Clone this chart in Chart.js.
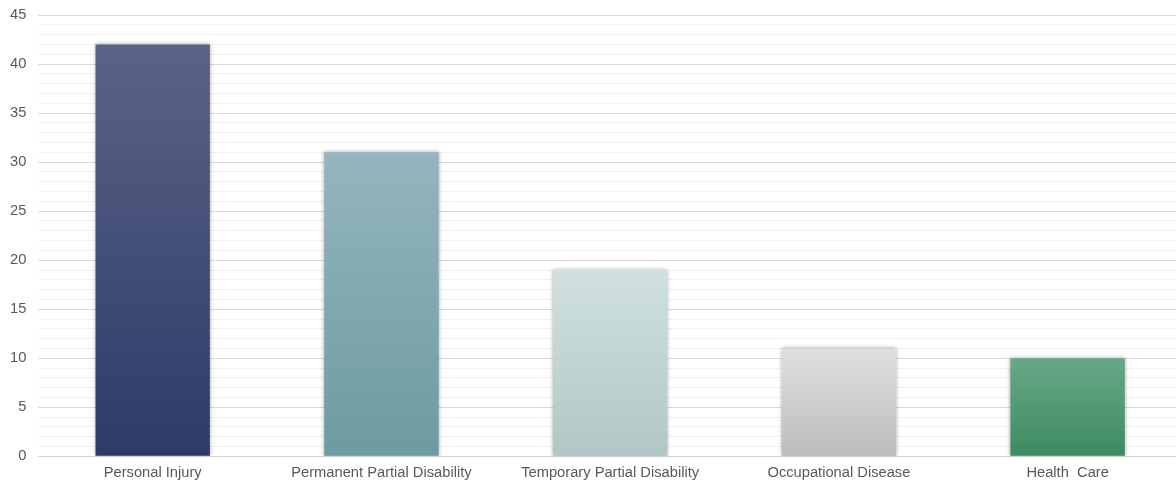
<!DOCTYPE html>
<html>
<head>
<meta charset="utf-8">
<script src="https://cdn.jsdelivr.net/npm/chart.js@4"></script>
<style>
html,body{margin:0;padding:0;background:#fff;overflow:hidden;}
#wrap{width:1182px;height:482px;}
</style>
</head>
<body>
<div id="wrap"><canvas id="c"></canvas></div>
<script>
const categories = ["Personal Injury", "Permanent Partial Disability", "Temporary Partial Disability", "Occupational Disease", "Health  Care"];
const values = [42, 31, 19, 11, 10];
const topColors = ["#5b6386", "#94b6bc", "#d0e1df", "#e0e0e0", "#68a887"];
const bottomColors = ["#2d3b69", "#6d9aa1", "#b1c7c5", "#bcbcbc", "#3d8b60"];

const shadowPlugin = {
  id: 'barShadow',
  beforeDatasetsDraw(chart) {
    const ctx = chart.ctx;
    ctx.save();
    ctx.shadowColor = 'rgba(0,0,0,0.35)';
    ctx.shadowBlur = 4;
    ctx.shadowOffsetX = 0;
    ctx.shadowOffsetY = 0;
  },
  afterDatasetsDraw(chart) {
    chart.ctx.restore();
  }
};

const labelFont = { family: 'Liberation Sans, Arial', size: 14.7 };

new Chart(document.getElementById('c'), {
  type: 'bar',
  data: {
    labels: categories,
    datasets: [{
      data: values,
      categoryPercentage: 1,
      barPercentage: 0.5,
      borderWidth: 0,
      backgroundColor: (ctx) => {
        const chart = ctx.chart;
        const y = chart.scales.y;
        if (!y || ctx.dataIndex === undefined) return topColors[0];
        const i = ctx.dataIndex;
        const top = y.getPixelForValue(values[i]);
        const bot = y.getPixelForValue(0);
        if (!isFinite(top) || !isFinite(bot)) return topColors[i];
        const g = chart.ctx.createLinearGradient(0, top, 0, bot);
        g.addColorStop(0, topColors[i]);
        g.addColorStop(1, bottomColors[i]);
        return g;
      }
    }]
  },
  options: {
    responsive: true,
    maintainAspectRatio: false,
    animation: false,
    layout: { padding: { top: 15, left: -2, right: 0, bottom: -8 } },
    plugins: { legend: { display: false }, tooltip: { enabled: false } },
    scales: {
      x: {
        grid: { display: false, drawTicks: false },
        border: { display: true, color: '#d4d4d4', width: 1 },
        ticks: { color: '#595959', font: labelFont, padding: 8, maxRotation: 0 }
      },
      y: {
        min: 0, max: 45,
        border: { display: false },
        afterFit: (scale) => { scale.paddingTop = 0; scale.paddingBottom = 0; },
        grid: {
          drawTicks: false,
          color: (c) => (c.tick && c.tick.value % 5 === 0) ? '#d9d9d9' : '#f0f0f0',
          lineWidth: 1
        },
        ticks: {
          stepSize: 1,
          autoSkip: false,
          padding: 12,
          color: '#595959',
          font: labelFont,
          callback: (v) => (v % 5 === 0 ? String(v) : '')
        }
      }
    }
  },
  plugins: [shadowPlugin]
});
</script>
</body>
</html>
